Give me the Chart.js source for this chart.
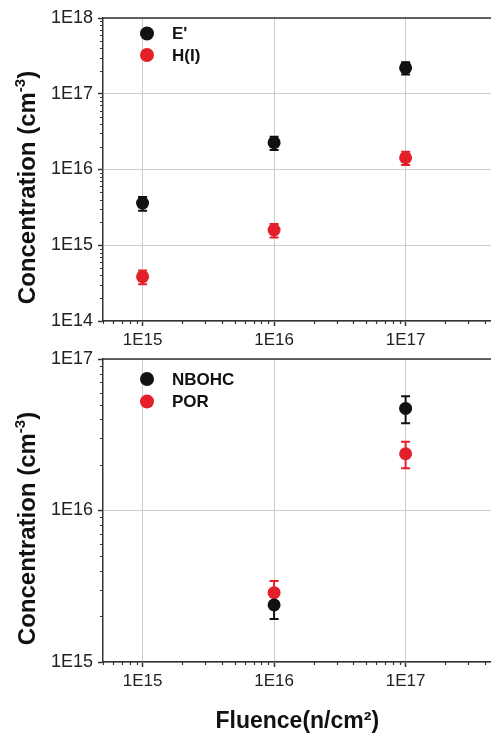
<!DOCTYPE html>
<html><head><meta charset="utf-8">
<script src="https://cdn.jsdelivr.net/npm/chart.js@4.4.1/dist/chart.umd.min.js"></script>
<style>
html,body{margin:0;padding:0;background:#fff;overflow:hidden;}
#wrap{position:relative;width:491px;height:736px;overflow:hidden;}
canvas{position:absolute;left:0;top:0;}
</style></head><body>
<div id="wrap"><canvas id="c1" width="498" height="736"></canvas><canvas id="c2" width="498" height="736"></canvas></div>
<script>
// ---- data ----
const fluenceTop = [1e15, 1e16, 1e17];
const ePrime = [3.6e15, 2.26e16, 2.2e17];
const ePrimeErr = [0.75e15, 0.45e16, 0.4e17];
const hI = [3.85e14, 1.59e15, 1.43e16];
const hIErr = [0.8e14, 0.32e15, 0.28e16];

const fluenceBottom = [1e16, 1e17];
const nbohc = [2.38e15, 4.72e16];
const nbohcErr = [0.46e15, 0.95e16];
const por = [2.87e15, 2.37e16];
const porErr = [0.55e15, 0.47e16];

const xTickValues = [1e15, 1e16, 1e17];
const xTickLabels = ['1E15', '1E16', '1E17'];
const yTopTickValues = [1e14, 1e15, 1e16, 1e17, 1e18];
const yTopTickLabels = ['1E14', '1E15', '1E16', '1E17', '1E18'];
const yBottomTickValues = [1e15, 1e16, 1e17];
const yBottomTickLabels = ['1E15', '1E16', '1E17'];

const seriesTop = ["E'", 'H(I)'];
const seriesBottom = ['NBOHC', 'POR'];
const xTitle = 'Fluence(n/cm²)';

const BLACK = '#111111';
const RED = '#e3202a';
const FONT = '"Liberation Sans", Arial, sans-serif';

function pts(xs, ys) { return xs.map((x, i) => ({x: x, y: ys[i]})); }

const decor = {
  id: 'decor',
  beforeDatasetsDraw(chart, args, o) {
    const ctx = chart.ctx, xs = chart.scales.x, ys = chart.scales.y;
    chart.data.datasets.forEach((ds, di) => {
      const errs = o.errors[di];
      ctx.save();
      ctx.strokeStyle = ds.backgroundColor;
      ctx.lineWidth = 2;
      ds.data.forEach((p, i) => {
        const e = errs[i];
        const px = xs.getPixelForValue(p.x);
        const y1 = ys.getPixelForValue(p.y + e), y2 = ys.getPixelForValue(p.y - e);
        ctx.beginPath();
        ctx.moveTo(px, y1); ctx.lineTo(px, y2);
        ctx.moveTo(px - 4.5, y1); ctx.lineTo(px + 4.5, y1);
        ctx.moveTo(px - 4.5, y2); ctx.lineTo(px + 4.5, y2);
        ctx.stroke();
      });
      ctx.restore();
    });
  },
  afterDraw(chart, args, o) {
    const ctx = chart.ctx, xs = chart.scales.x, ys = chart.scales.y;
    const a = chart.chartArea;
    ctx.save();
    ctx.strokeStyle = '#333';
    ctx.lineWidth = 1.2;
    const minor = (scale, cb) => {
      const lo = Math.floor(Math.log10(scale.min)), hi = Math.ceil(Math.log10(scale.max));
      for (let d = lo; d <= hi; d++) for (let m = 2; m <= 9; m++) {
        const v = m * Math.pow(10, d);
        if (v >= scale.min * 0.999 && v <= scale.max * 1.001) cb(scale.getPixelForValue(v));
      }
    };
    ctx.beginPath();
    minor(xs, px => { ctx.moveTo(Math.round(px) + 0.5, a.bottom); ctx.lineTo(Math.round(px) + 0.5, a.bottom + 3); });
    minor(ys, py => { ctx.moveTo(a.left - 3, Math.round(py) + 0.5); ctx.lineTo(a.left, Math.round(py) + 0.5); });
    ctx.stroke();
    ctx.lineWidth = 1.5;
    ctx.beginPath(); ctx.moveTo(a.left, a.top); ctx.lineTo(a.right, a.top); ctx.stroke();
    chart.data.datasets.forEach((ds, i) => {
      const cy = a.top + o.legendTop + i * o.legendGap;
      ctx.fillStyle = ds.backgroundColor;
      ctx.beginPath(); ctx.arc(a.left + 44, cy, 7, 0, Math.PI * 2); ctx.fill();
      ctx.fillStyle = '#111';
      ctx.font = 'bold 17px ' + FONT;
      ctx.textBaseline = 'middle';
      ctx.textAlign = 'left';
      ctx.fillText(ds.label, a.left + 69, cy + 1);
    });
    const main = 'Concentration (cm', sup = '-3', close = ')';
    const fMain = 'bold 24px ' + FONT, fSup = 'bold 15px ' + FONT;
    ctx.font = fMain; const w1 = ctx.measureText(main).width, w3 = ctx.measureText(close).width;
    ctx.font = fSup; const w2 = ctx.measureText(sup).width;
    const total = w1 + w2 + w3;
    ctx.translate(35, (a.top + a.bottom) / 2 + 18);
    ctx.rotate(-Math.PI / 2);
    ctx.textBaseline = 'alphabetic'; ctx.textAlign = 'left';
    ctx.fillStyle = '#111';
    let x = -total / 2;
    ctx.font = fMain; ctx.fillText(main, x, 0); x += w1;
    ctx.font = fSup; ctx.fillText(sup, x, -10); x += w2;
    ctx.font = fMain; ctx.fillText(close, x, 0);
    ctx.restore();
  }
};

function makeChart(id, cfg) {
  return new Chart(document.getElementById(id), {
    type: 'scatter',
    data: {
      datasets: cfg.series.map((s, i) => ({
        label: s,
        data: pts(cfg.fluence, cfg.values[i]),
        backgroundColor: cfg.colors[i],
        borderColor: cfg.colors[i],
        pointRadius: 6.5,
        pointHoverRadius: 6.5,
        borderWidth: 0
      }))
    },
    options: {
      responsive: false,
      animation: false,
      events: [],
      layout: {padding: cfg.padding},
      plugins: {
        legend: {display: false},
        tooltip: {enabled: false},
        decor: {errors: cfg.errors, legendTop: cfg.legendTop, legendGap: cfg.legendGap}
      },
      scales: {
        x: {
          type: 'logarithmic',
          min: 5e14, max: 4.5e17,
          afterBuildTicks: s => { s.ticks = xTickValues.map(v => ({value: v})); },
          afterFit: s => { s.height = cfg.xHeight; s.paddingLeft = 0; s.paddingRight = 0; },
          ticks: {
            callback: (v, i) => xTickLabels[i],
            font: {family: FONT, size: 17},
            color: '#222',
            padding: 4,
            maxRotation: 0,
            autoSkip: false
          },
          grid: {color: '#cccccc', lineWidth: 1, tickColor: '#333', tickWidth: 1.5, tickLength: 5},
          border: {display: true, color: '#333', width: 1.5},
          title: cfg.xTitle ? {display: true, text: cfg.xTitle, font: {family: FONT, size: 23, weight: 'bold'}, color: '#111', padding: {top: 0, bottom: 1}} : {display: false}
        },
        y: {
          type: 'logarithmic',
          min: cfg.yMin, max: cfg.yMax,
          afterBuildTicks: s => { s.ticks = cfg.yTicks.map(v => ({value: v})); },
          afterFit: s => { s.width = 103; },
          ticks: {
            callback: (v, i) => cfg.yLabels[i],
            font: {family: FONT, size: 18},
            color: '#222',
            padding: 5,
            autoSkip: false
          },
          grid: {color: '#cccccc', lineWidth: 1, tickColor: '#333', tickWidth: 1.5, tickLength: 5},
          border: {display: true, color: '#333', width: 1.5}
        }
      }
    },
    plugins: [decor]
  });
}

makeChart('c1', {
  series: seriesTop, fluence: fluenceTop, values: [ePrime, hI], errors: [ePrimeErr, hIErr],
  colors: [BLACK, RED],
  padding: {top: 18, bottom: 386, left: 0, right: 0},
  xHeight: 29, yMin: 1e14, yMax: 1e18, yTicks: yTopTickValues, yLabels: yTopTickLabels,
  legendTop: 15.5, legendGap: 21.5, xTitle: null
});
makeChart('c2', {
  series: seriesBottom, fluence: fluenceBottom, values: [nbohc, por], errors: [nbohcErr, porErr],
  colors: [BLACK, RED],
  padding: {top: 359, bottom: 0, left: 0, right: 0},
  xHeight: 74, yMin: 1e15, yMax: 1e17, yTicks: yBottomTickValues, yLabels: yBottomTickLabels,
  legendTop: 20, legendGap: 22.5, xTitle: xTitle
});
</script>
</body></html>
